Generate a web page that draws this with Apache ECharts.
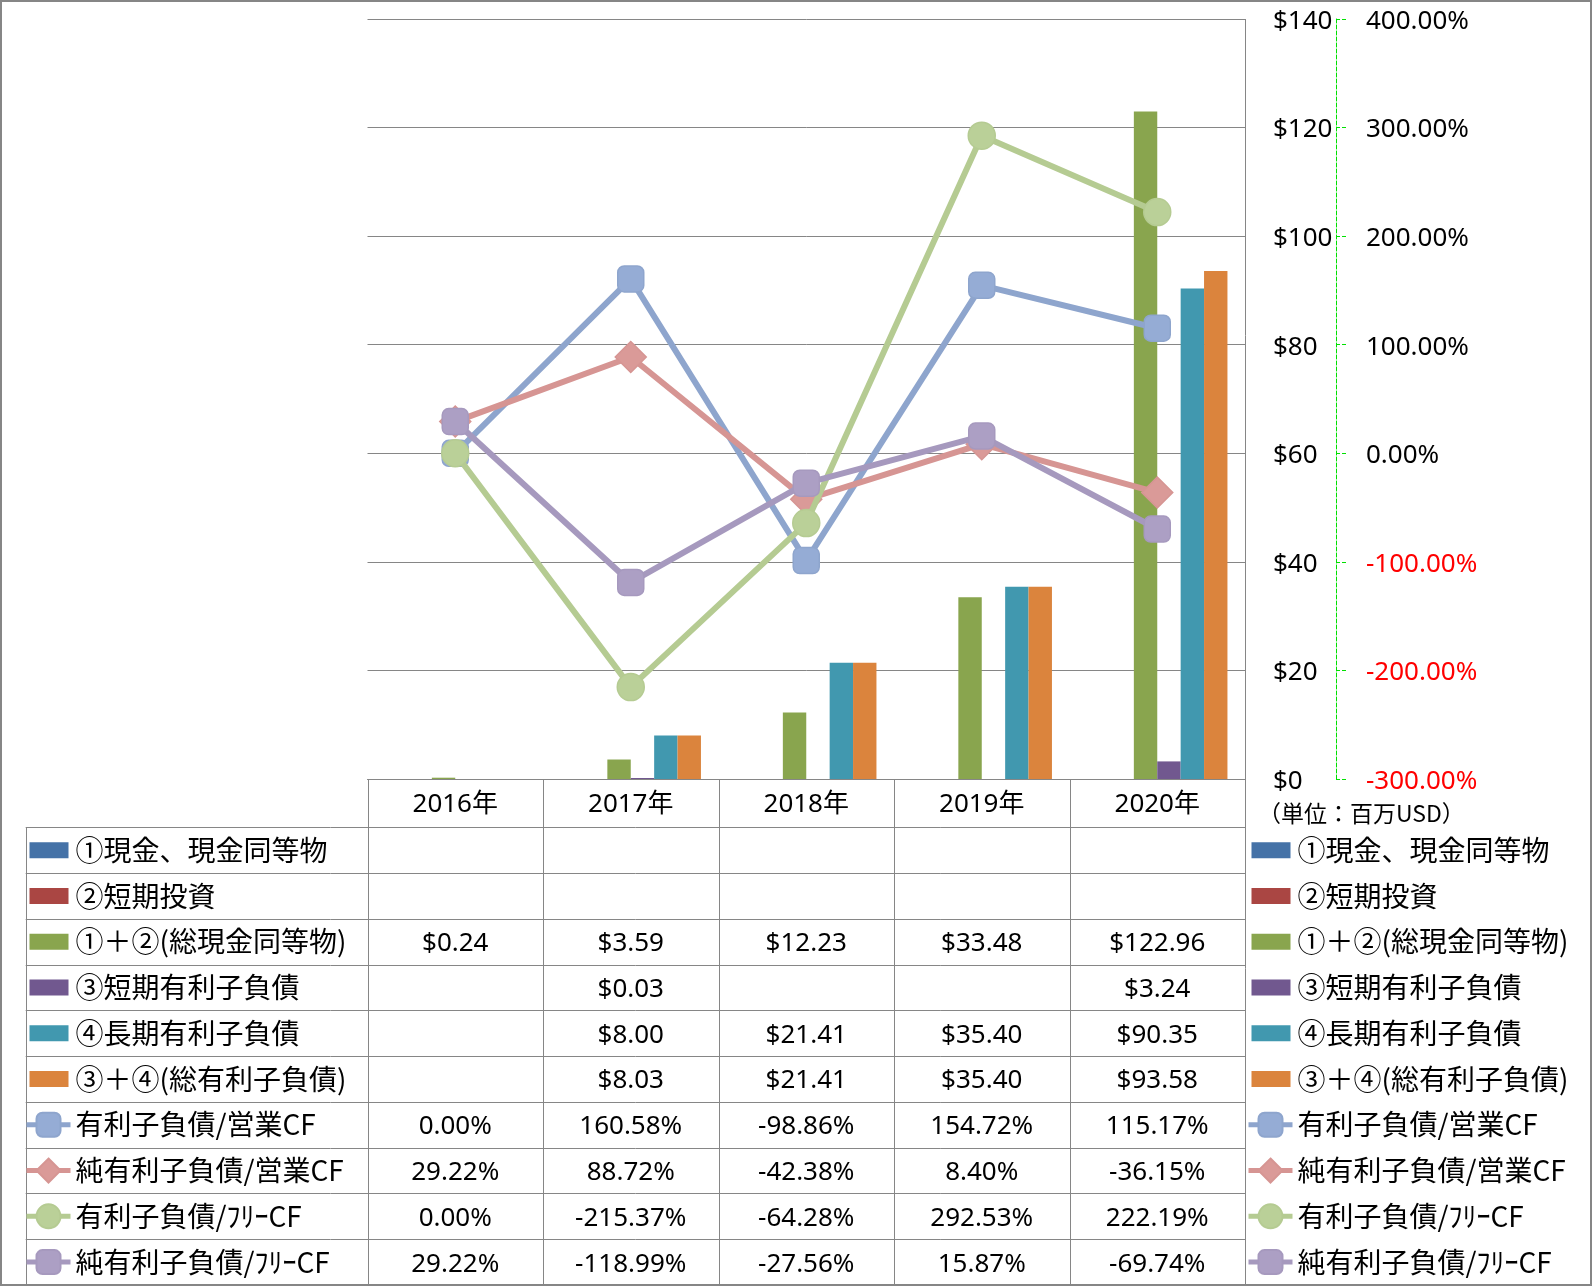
<!DOCTYPE html>
<html><head><meta charset="utf-8">
<script src="https://cdn.jsdelivr.net/npm/echarts@6/dist/echarts.min.js"></script>
<style>html,body{margin:0;padding:0;background:#fff}#c{width:1592px;height:1286px}</style>
</head><body><div id="c"></div>
<script>
// ---------- data ----------
const years = ['2016年', '2017年', '2018年', '2019年', '2020年'];
const cashEq = [null, null, null, null, null];          // ①現金、現金同等物
const shortInv = [null, null, null, null, null];        // ②短期投資
const totalCash = [0.24, 3.59, 12.23, 33.48, 122.96];   // ①＋②
const shortDebt = [null, 0.03, null, null, 3.24];       // ③
const longDebt = [null, 8.00, 21.41, 35.40, 90.35];     // ④
const totalDebt = [null, 8.03, 21.41, 35.40, 93.58];    // ③＋④
const debtOpCF = [0.00, 160.58, -98.86, 154.72, 115.17];
const netDebtOpCF = [29.22, 88.72, -42.38, 8.40, -36.15];
const debtFreeCF = [0.00, -215.37, -64.28, 292.53, 222.19];
const netDebtFreeCF = [29.22, -118.99, -27.56, 15.87, -69.74];
const usdAxis = { min: 0, max: 140, interval: 20 };
const pctAxis = { min: -300, max: 400, interval: 100 };
const unitLabel = '（単位：百万USD）';

const barNames = ['①現金、現金同等物', '②短期投資', '①＋②(総現金同等物)', '③短期有利子負債', '④長期有利子負債', '③＋④(総有利子負債)'];
const barData = [cashEq, shortInv, totalCash, shortDebt, longDebt, totalDebt];
const barColors = ['#4572A7', '#AA4643', '#89A54E', '#71588F', '#4198AF', '#DB843D'];
const lineNames = ['有利子負債/営業CF', '純有利子負債/営業CF', '有利子負債/ﾌﾘｰCF', '純有利子負債/ﾌﾘｰCF'];
const lineData = [debtOpCF, netDebtOpCF, debtFreeCF, netDebtFreeCF];
const lineColors = ['#8EA5CD', '#D69593', '#B5CB92', '#A699BE'];
const markerFill = ['#95ACD5', '#DA9A98', '#BAD098', '#AC9FC4'];
const lineSymbols = ['roundRect', 'diamond', 'circle', 'roundRect'];
const lineSymbolSize = [26, 31, 27, 26];

// ---------- layout ----------
const LAT = '"Noto Sans", "Noto Sans CJK JP", sans-serif';
const CJK = '"Noto Sans CJK JP", "Noto Sans", sans-serif';
const GRID = { left: 367.5, right: 1245, top: 19, bottom: 779 };
const TABLE = { left: 25.7, rowTop: 827.3, rowH: 45.77, rows: 10, bottom: 1285 };
const GRAY = '#868686';

const chart = echarts.init(document.getElementById('c'), null, { renderer: 'canvas' });

const barIcon = 'path://M0,0M3,7L42,7L42,23L3,23ZM44,30';
function legendData() {
  return barNames.map(n => ({ name: n, icon: barIcon })).concat(lineNames.map(n => ({ name: n })));
}
function legendAt(left) {
  return {
    orient: 'vertical', left: left, top: TABLE.rowTop + TABLE.rowH / 2 - 15,
    padding: 0, itemWidth: 44, itemHeight: 30, itemGap: TABLE.rowH - 30, selectedMode: false,
    lineStyle: { width: 5 },
    textStyle: { fontSize: 28, lineHeight: 30, color: '#000', fontFamily: CJK },
    data: legendData()
  };
}

const series = [];
barNames.forEach((n, i) => series.push({
  name: n, type: 'bar', yAxisIndex: 0, data: barData[i],
  barGap: '0%', barCategoryGap: '20%', barMinHeight: i === 3 ? 1 : 0,
  itemStyle: { color: barColors[i] }, z: 2
}));
lineNames.forEach((n, i) => series.push({
  name: n, type: 'line', yAxisIndex: 1, data: lineData[i],
  symbol: lineSymbols[i], symbolSize: lineSymbolSize[i],
  lineStyle: { width: 6, color: lineColors[i] },
  itemStyle: { color: markerFill[i], borderColor: lineColors[i], borderWidth: 1.5 },
  z: 3 + i
}));

const option = {
  animation: false,
  backgroundColor: '#fff',
  grid: { left: GRID.left, top: GRID.top, width: GRID.right - GRID.left, height: GRID.bottom - GRID.top, containLabel: false, outerBoundsMode: 'none' },
  xAxis: {
    type: 'category', data: years,
    axisLine: { lineStyle: { color: GRAY, width: 1 } },
    axisTick: { show: false },
    axisLabel: { margin: 13, fontSize: 26, color: '#000', fontFamily: LAT },
    splitLine: { show: false }
  },
  yAxis: [
    {
      type: 'value', position: 'right', min: usdAxis.min, max: usdAxis.max, interval: usdAxis.interval,
      axisLine: { show: false }, axisTick: { show: false },
      splitLine: { show: true, lineStyle: { color: GRAY, width: 1 } },
      axisLabel: {
        align: 'left', margin: 28, fontSize: 26, color: '#000', fontFamily: LAT,
        formatter: v => '{v|$' + v + '}',
        rich: { v: { fontSize: 26, fontFamily: LAT, padding: [5, 0, 0, 0] } }
      }
    },
    {
      type: 'value', position: 'right', offset: 91, min: pctAxis.min, max: pctAxis.max, interval: pctAxis.interval,
      axisLine: { show: true, lineStyle: { color: '#00E000', type: 'dashed', width: 1 } },
      axisTick: { show: true, length: 10, lineStyle: { color: '#00E000', type: 'dashed', width: 1 } },
      splitLine: { show: false },
      axisLabel: {
        margin: 30, fontSize: 26, fontFamily: LAT, align: 'left',
        formatter: v => (Number(v) < 0 ? '{n|' : '{p|') + Number(v).toFixed(2) + '%}',
        rich: {
          p: { fontSize: 26, fontFamily: LAT, color: '#000', padding: [5, 0, 0, 0] },
          n: { fontSize: 26, fontFamily: LAT, color: '#FF0000', padding: [5, 0, 0, 0] }
        }
      }
    }
  ],
  legend: [legendAt(24), legendAt(1246)],
  series: series
};
chart.setOption(option);

// ---------- data table (built from the same arrays) ----------
const fmtUsd = v => (v === null || v === undefined) ? '' : '$' + v.toFixed(2);
const fmtPct = v => (v === null || v === undefined) ? '' : v.toFixed(2) + '%';
const tableRows = barData.map(a => a.map(fmtUsd)).concat(lineData.map(a => a.map(fmtPct)));

const g = [];
const px = v => Math.round(v) + 0.5;
function hline(x1, x2, y) { g.push({ type: 'line', silent: true, shape: { x1: x1, y1: px(y), x2: x2, y2: px(y) }, style: { stroke: GRAY, lineWidth: 1 } }); }
function vline(x, y1, y2) { g.push({ type: 'line', silent: true, shape: { x1: px(x), y1: y1, x2: px(x), y2: y2 }, style: { stroke: GRAY, lineWidth: 1 } }); }

const band = (GRID.right - GRID.left) / years.length;
for (let r = 0; r < TABLE.rows; r++) hline(TABLE.left, GRID.right, TABLE.rowTop + r * TABLE.rowH);
vline(TABLE.left, TABLE.rowTop, TABLE.bottom);
for (let c = 0; c < years.length; c++) vline(GRID.left + c * band, GRID.bottom, TABLE.bottom);
vline(GRID.right, GRID.top, TABLE.bottom);

const centers = years.map(y => chart.convertToPixel({ xAxisIndex: 0 }, y));
tableRows.forEach((row, r) => {
  row.forEach((txt, c) => {
    if (!txt) return;
    g.push({
      type: 'text', silent: true, x: centers[c], y: TABLE.rowTop + (r + 0.5) * TABLE.rowH + 2,
      style: { text: txt, fill: '#000', font: '26px ' + LAT, align: 'center', verticalAlign: 'middle' }
    });
  });
});
g.push({
  type: 'text', silent: true, x: 1258, y: 813,
  style: { text: unitLabel, fill: '#000', font: '23px ' + CJK, align: 'left', verticalAlign: 'middle' }
});
g.push({ type: 'rect', silent: true, shape: { x: 1, y: 1, width: 1590, height: 1284 }, style: { fill: 'none', stroke: GRAY, lineWidth: 2 } });
chart.setOption({ graphic: g });
</script>
</body></html>
